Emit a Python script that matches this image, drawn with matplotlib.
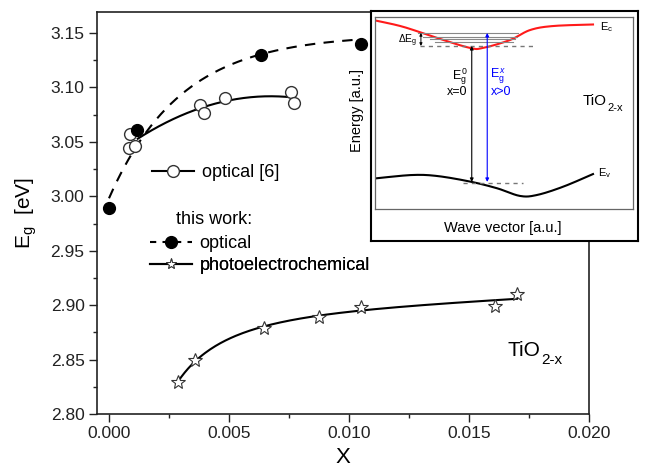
import numpy as np
import matplotlib
matplotlib.use('Agg')
import matplotlib.pyplot as plt
from matplotlib.lines import Line2D
from matplotlib.ticker import MultipleLocator

plt.rcParams['font.family'] = ['Liberation Sans', 'DejaVu Sans']
plt.rcParams['mathtext.fontset'] = 'custom'
plt.rcParams['mathtext.rm'] = 'Liberation Sans'
plt.rcParams['mathtext.it'] = 'Liberation Sans:italic'
plt.rcParams['mathtext.bf'] = 'Liberation Sans:bold'

# ---------------- data ----------------
lit_x = [0.00083, 0.00087, 0.00110, 0.00378, 0.00395, 0.00482, 0.00760, 0.00770]
lit_y = [3.044, 3.057, 3.046, 3.0835, 3.0764, 3.0906, 3.0957, 3.0856]
opt_x = [0.0, 0.00118, 0.00635, 0.0105]
opt_y = [2.989, 3.061, 3.130, 3.140]
pec_x = [0.00287, 0.00358, 0.00644, 0.00873, 0.01051, 0.01608, 0.01700]
pec_y = [2.829, 2.8495, 2.879, 2.889, 2.8985, 2.899, 2.910]

xticks = [0.000, 0.005, 0.010, 0.015, 0.020]
yticks = [2.80, 2.85, 2.90, 2.95, 3.00, 3.05, 3.10, 3.15]

# inset schematic (band diagram), inset units 0..1
ec_u = [0.004, 0.109, 0.240, 0.368, 0.419, 0.523, 0.601, 0.690, 0.845]
ec_v = [0.981, 0.949, 0.891, 0.839, 0.839, 0.880, 0.932, 0.953, 0.961]
ev_u = [0.006, 0.143, 0.240, 0.368, 0.473, 0.562, 0.628, 0.729, 0.845]
ev_v = [0.160, 0.177, 0.172, 0.143, 0.108, 0.068, 0.073, 0.116, 0.182]
lvl_v = [0.916, 0.898, 0.885, 0.872]
lvl_u0 = [0.166, 0.185, 0.212, 0.232]
lvl_u1 = [0.555, 0.550, 0.543, 0.535]


def catmull(u, v, n=20):
    u = np.asarray(u, float); v = np.asarray(v, float)
    P = np.column_stack([u, v])
    P = np.vstack([P[0], P, P[-1]])
    out = []
    for i in range(1, len(P) - 2):
        p0, p1, p2, p3 = P[i - 1], P[i], P[i + 1], P[i + 2]
        t = np.linspace(0, 1, n, endpoint=False)[:, None]
        seg = 0.5 * ((2 * p1) + (-p0 + p2) * t + (2 * p0 - 5 * p1 + 4 * p2 - p3) * t ** 2
                     + (-p0 + 3 * p1 - 3 * p2 + p3) * t ** 3)
        out.append(seg)
    out.append(P[-2][None, :])
    out = np.vstack(out)
    return out[:, 0], out[:, 1]


fig = plt.figure(figsize=(6.64, 4.76), dpi=100)
W, H = 664, 476
ax = fig.add_axes([97 / W, 1 - 414 / H, 492 / W, 402 / H])

# fits
# optical (this work): saturating exponential, fixed rate, least squares for level/amplitude
ox = np.asarray(opt_x); oy = np.asarray(opt_y)
rate = 0.003
A = np.column_stack([np.ones_like(ox), 1 - np.exp(-ox / rate)])
coef, *_ = np.linalg.lstsq(A, oy, rcond=None)
xf = np.linspace(min(opt_x), max(opt_x), 200)
yf = coef[0] + coef[1] * (1 - np.exp(-xf / rate))
ax.plot(xf, yf, color='black', lw=1.5, ls=(0, (5, 4)), zorder=2)

lx = np.asarray(lit_x); ly = np.asarray(lit_y)
pl = np.polyfit(lx, ly, 2)
xl = np.linspace(0.00120, max(lit_x), 200)
ax.plot(xl, np.polyval(pl, xl), color='black', lw=1.5, zorder=2)

px_ = np.asarray(pec_x); py_ = np.asarray(pec_y)
pp = np.polyfit(np.log(px_), py_, 3)
xp = np.linspace(min(pec_x), max(pec_x), 200)
ax.plot(xp, np.polyval(pp, np.log(xp)), color='black', lw=1.5, zorder=2)

ax.plot(lit_x, lit_y, 'o', ls='none', ms=8.5, mfc='white', mec='#333333', mew=1.0, zorder=3)
ax.plot(opt_x, opt_y, 'o', ls='none', ms=8.5, mfc='black', mec='black', zorder=3)
ax.plot(pec_x, pec_y, '*', ls='none', ms=10, mfc='white', mec='#333333', mew=0.8, zorder=3)

ax.set_xlim(-0.0005, 0.020)
ax.set_ylim(2.80, 3.1693)
ax.set_xticks(xticks)
ax.set_xticklabels([f'{t:.3f}' for t in xticks])
ax.set_yticks(yticks)
ax.set_yticklabels([f'{t:.2f}' for t in yticks])
ax.xaxis.set_minor_locator(MultipleLocator(0.0025))
ax.yaxis.set_minor_locator(MultipleLocator(0.025))
ax.tick_params(which='major', direction='out', length=6, width=1.0, labelsize=12.5,
               top=False, right=False, pad=3, colors='#222222')
ax.tick_params(which='minor', direction='out', length=3, width=1.0, top=False, right=False,
               colors='#222222')
for s in ax.spines.values():
    s.set_linewidth(1.2)
    s.set_color('#222222')
ax.set_xlabel('X', fontsize=16, labelpad=4)
ax.set_ylabel(r'E$_\mathrm{g}$  [eV]', fontsize=15, labelpad=8)

# legends
def one_legend(handle, label, x, y):
    lg = ax.legend([handle], [label], loc='center left', bbox_to_anchor=(x, y),
                   frameon=False, fontsize=13, borderpad=0, borderaxespad=0,
                   handlelength=2.3, handletextpad=0.45)
    ax.add_artist(lg)

h_lit = Line2D([], [], color='black', lw=1.5, marker='o', ms=8.5, mfc='white', mec='#333333')
h_opt = Line2D([], [], color='black', lw=1.5, ls=(0, (3, 3)), marker='o', ms=8.5, mfc='black')
h_pec = Line2D([], [], color='black', lw=1.5, marker='*', ms=8, mfc='white', mec='#333333', mew=0.7)
one_legend(h_lit, 'optical [6]', (152 - 97) / 492, (414 - 172.7) / 402)
one_legend(h_opt, 'optical', (150 - 97) / 492, (414 - 244) / 402)
one_legend(h_pec, 'photoelectrochemical', (150 - 97) / 492, (414 - 266) / 402)
ax.text((176 - 97) / 492, (414 - 220) / 402, 'this work:', transform=ax.transAxes,
        fontsize=13, ha='left', va='center')

t_main = ax.text((508 - 97) / 492, (414 - 350) / 402, 'TiO', transform=ax.transAxes,
                 fontsize=15, ha='left', va='center')
ax.annotate('2-x', xy=(1.0, 0.05), xycoords=t_main, xytext=(0.5, -1),
            textcoords='offset points', fontsize=11, ha='left', va='center')

# inset: outer frame
frame = fig.add_axes([371 / W, 1 - 241 / H, 267 / W, 230 / H], zorder=5)
frame.set_xticks([]); frame.set_yticks([])
frame.set_facecolor('white')
for s in frame.spines.values():
    s.set_linewidth(1.5); s.set_color('black')

ins = fig.add_axes([375 / W, 1 - 209 / H, 258 / W, 192 / H], zorder=6)
ins.set_facecolor('none')
ins.set_xlim(0, 1); ins.set_ylim(0, 1)
ins.set_xticks([]); ins.set_yticks([])
for s in ins.spines.values():
    s.set_linewidth(0.9); s.set_color('#666666')

cu, cv = catmull(ec_u, ec_v)
ins.plot(cu, cv, color='#ff1a1a', lw=1.5)
vu, vv = catmull(ev_u, ev_v)
ins.plot(vu, vv, color='black', lw=1.5)
for v0, a, b in zip(lvl_v, lvl_u0, lvl_u1):
    ins.plot([a, b], [v0, v0], color='#888888', lw=0.8)
ins.plot([0.174, 0.612], [0.849, 0.849], color='#777777', lw=1.0, ls=(0, (3, 3)))
ins.plot([0.341, 0.574], [0.137, 0.137], color='#777777', lw=1.0, ls=(0, (3, 3)))

ins.annotate('', xy=(0.375, 0.849), xytext=(0.375, 0.141),
             arrowprops=dict(arrowstyle='<|-|>', color='black', lw=0.8, mutation_scale=5,
                             shrinkA=0, shrinkB=0))
ins.annotate('', xy=(0.435, 0.917), xytext=(0.435, 0.141),
             arrowprops=dict(arrowstyle='<|-|>', color='blue', lw=0.8, mutation_scale=5,
                             shrinkA=0, shrinkB=0))
ins.annotate('', xy=(0.178, 0.917), xytext=(0.178, 0.849),
             arrowprops=dict(arrowstyle='<|-|>', color='black', lw=0.7, mutation_scale=4,
                             shrinkA=0, shrinkB=0))

ins.text(0.163, 0.875, r'$\Delta$E$_\mathrm{g}$', fontsize=7.5, ha='right', va='center')
ins.text(0.329, 0.69, r'E$_\mathrm{g}^{\,0}$', fontsize=9, ha='center', va='center')
ins.text(0.318, 0.609, 'x=0', fontsize=9, ha='center', va='center')
ins.text(0.477, 0.69, r'E$_\mathrm{g}^{\,x}$', fontsize=9, ha='center', va='center', color='blue')
ins.text(0.488, 0.609, 'x>0', fontsize=9, ha='center', va='center', color='blue')
ins.text(0.872, 0.948, r'E$_\mathrm{c}$', fontsize=8, ha='left', va='center')
ins.text(0.864, 0.1875, r'E$_\mathrm{v}$', fontsize=8, ha='left', va='center')
t_ins = ins.text(0.806, 0.565, 'TiO', fontsize=11, ha='left', va='center')
ins.annotate('2-x', xy=(1.0, 0.05), xycoords=t_ins, xytext=(0.5, -1),
             textcoords='offset points', fontsize=8, ha='left', va='center')

fig.text(503 / W, 1 - 228 / H, 'Wave vector [a.u.]', fontsize=10.5, ha='center', va='center',
         zorder=10)
fig.text(357 / W, 1 - 110 / H, 'Energy [a.u.]', fontsize=10.5, ha='center', va='center',
         rotation=90, zorder=10)

fig.savefig('out.png', dpi=100)
